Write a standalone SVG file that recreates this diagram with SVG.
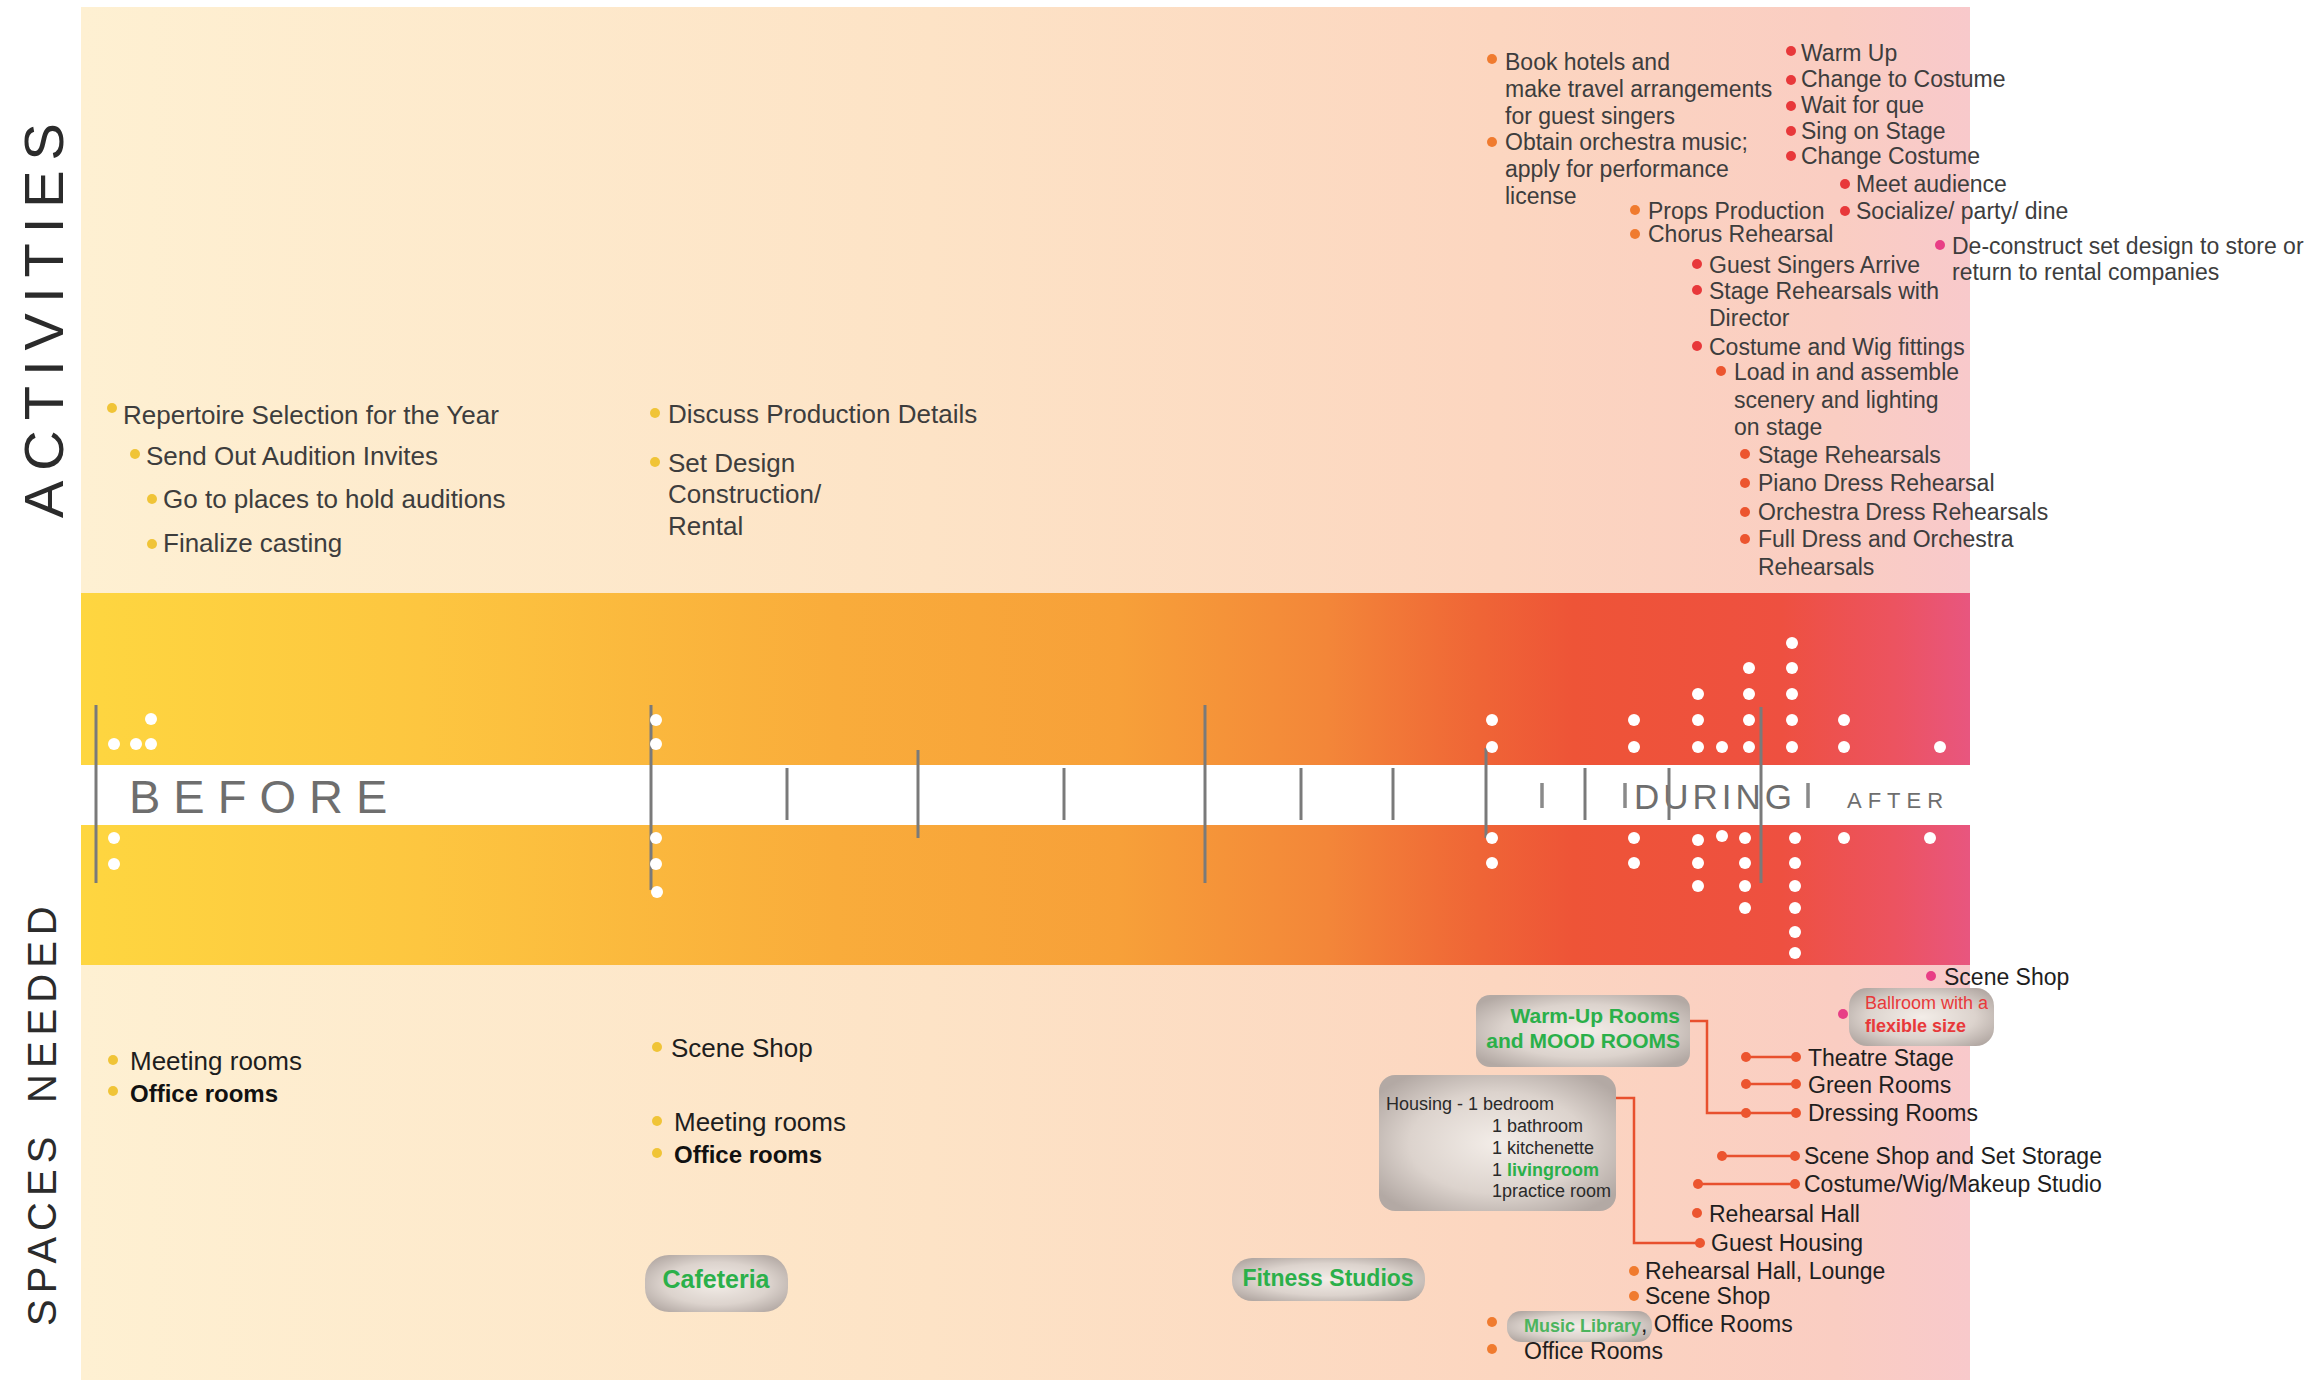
<svg xmlns="http://www.w3.org/2000/svg" width="2319" height="1380" viewBox="0 0 2319 1380">
<defs>
<linearGradient id="gTop" x1="81" y1="0" x2="1970" y2="0" gradientUnits="userSpaceOnUse">
<stop offset="0" stop-color="#FEF0D2"/>
<stop offset="0.45" stop-color="#FDE3C6"/>
<stop offset="0.75" stop-color="#FCD6C0"/>
<stop offset="0.93" stop-color="#FACDC2"/>
<stop offset="1" stop-color="#F8C9CB"/>
</linearGradient>
<linearGradient id="gBand" x1="81" y1="0" x2="1970" y2="0" gradientUnits="userSpaceOnUse">
<stop offset="0" stop-color="#FED640"/>
<stop offset="0.18" stop-color="#FDC640"/>
<stop offset="0.4" stop-color="#F9AC3B"/>
<stop offset="0.55" stop-color="#F7A039"/>
<stop offset="0.66" stop-color="#F38639"/>
<stop offset="0.74" stop-color="#EF6536"/>
<stop offset="0.79" stop-color="#EE5437"/>
<stop offset="0.9" stop-color="#EE5040"/>
<stop offset="0.96" stop-color="#EC5360"/>
<stop offset="1" stop-color="#E8567F"/>
</linearGradient>
<radialGradient id="gPill" cx="0.5" cy="0.5" r="0.62">
<stop offset="0" stop-color="#F3EDE8"/>
<stop offset="0.6" stop-color="#DCD3CD"/>
<stop offset="1" stop-color="#B3A9A4"/>
</radialGradient>
<style>
text{font-family:"Liberation Sans",Arial,sans-serif}
.side{font-size:56px;fill:#2b2b2b;letter-spacing:10px}
.side2{font-size:40px;fill:#2b2b2b;letter-spacing:6px}
.phase{fill:#6e6e6e}
.a1{font-size:26px;fill:#3d3d3d}
.a2{font-size:23px;fill:#3d3d3d}
.s1{font-size:26px;fill:#1e1e1e}
.s1b{font-size:24px;fill:#111;font-weight:bold}
.s2{font-size:23px;fill:#1e1e1e}
.sm{font-size:18px;fill:#2a2a2a}
.grn{fill:#2BB04A;font-weight:bold}
.red{fill:#E8393A}
.by{fill:#F0C437}
.bo{fill:#F07B2F}
.br{fill:#E8383A}
.bp{fill:#E83E86}
.bs{fill:#EC552F}
.pill{fill:url(#gPill)}
.tick{stroke:#7a7a7a;stroke-width:3;fill:none}
.tickd{stroke:#8a8a8a;stroke-width:3.5;fill:none}
.dot{fill:#ffffff}
.con{stroke:#E8502E;stroke-width:2.5;fill:none}
</style>
</defs>

<g id="background">
<rect x="81" y="7" width="1889" height="586" fill="url(#gTop)"/>
<rect x="81" y="593" width="1889" height="372" fill="url(#gBand)"/>
<rect x="81" y="765" width="1889" height="60" fill="#ffffff"/>
<rect x="81" y="965" width="1889" height="415" fill="url(#gTop)"/>
</g>

<g id="side-labels">
<text class="side" transform="translate(63,518) rotate(-90)">ACTIVITIES</text>
<text class="side2" transform="translate(56,1326) rotate(-90)">SPACES</text>
<text class="side2" transform="translate(56,1103) rotate(-90)">NEEDED</text>
</g>

<g id="timeline">
<text class="phase" x="129" y="813" font-size="47" letter-spacing="13">BEFORE</text>
<text class="phase" x="1634" y="809" font-size="35" letter-spacing="4" fill="#777">DURING</text>
<text class="phase" x="1847" y="808" font-size="22" letter-spacing="6" fill="#777">AFTER</text>
<line class="tick" x1="96" y1="705" x2="96" y2="883"/>
<line class="tick" x1="651" y1="705" x2="651" y2="890"/>
<line class="tick" x1="787" y1="768" x2="787" y2="820"/>
<line class="tick" x1="918" y1="750" x2="918" y2="838"/>
<line class="tick" x1="1064" y1="768" x2="1064" y2="820"/>
<line class="tick" x1="1205" y1="705" x2="1205" y2="883"/>
<line class="tick" x1="1301" y1="768" x2="1301" y2="820"/>
<line class="tick" x1="1393" y1="768" x2="1393" y2="820"/>
<line class="tick" x1="1486" y1="748" x2="1486" y2="838"/>
<line class="tickd" x1="1542" y1="783" x2="1542" y2="808"/>
<line class="tick" x1="1585" y1="768" x2="1585" y2="820"/>
<line class="tickd" x1="1625" y1="783" x2="1625" y2="808"/>
<line class="tick" x1="1669" y1="768" x2="1669" y2="820"/>
<line class="tick" x1="1761" y1="707" x2="1761" y2="883"/>
<line class="tickd" x1="1808" y1="783" x2="1808" y2="808"/>
</g>

<g id="dots">
<circle class="dot" cx="151" cy="719" r="6"/>
<circle class="dot" cx="114" cy="744" r="6"/>
<circle class="dot" cx="136" cy="744" r="6"/>
<circle class="dot" cx="151" cy="744" r="6"/>
<circle class="dot" cx="114" cy="838" r="6"/>
<circle class="dot" cx="114" cy="864" r="6"/>
<circle class="dot" cx="656" cy="720" r="6"/>
<circle class="dot" cx="656" cy="744" r="6"/>
<circle class="dot" cx="656" cy="838" r="6"/>
<circle class="dot" cx="656" cy="864" r="6"/>
<circle class="dot" cx="657" cy="892" r="6"/>
<circle class="dot" cx="1492" cy="720" r="6"/>
<circle class="dot" cx="1492" cy="747" r="6"/>
<circle class="dot" cx="1634" cy="720" r="6"/>
<circle class="dot" cx="1634" cy="747" r="6"/>
<circle class="dot" cx="1698" cy="694" r="6"/>
<circle class="dot" cx="1698" cy="720" r="6"/>
<circle class="dot" cx="1698" cy="747" r="6"/>
<circle class="dot" cx="1722" cy="747" r="6"/>
<circle class="dot" cx="1749" cy="668" r="6"/>
<circle class="dot" cx="1749" cy="694" r="6"/>
<circle class="dot" cx="1749" cy="720" r="6"/>
<circle class="dot" cx="1749" cy="747" r="6"/>
<circle class="dot" cx="1792" cy="643" r="6"/>
<circle class="dot" cx="1792" cy="668" r="6"/>
<circle class="dot" cx="1792" cy="694" r="6"/>
<circle class="dot" cx="1792" cy="720" r="6"/>
<circle class="dot" cx="1792" cy="747" r="6"/>
<circle class="dot" cx="1844" cy="720" r="6"/>
<circle class="dot" cx="1844" cy="747" r="6"/>
<circle class="dot" cx="1940" cy="747" r="6"/>
<circle class="dot" cx="1492" cy="838" r="6"/>
<circle class="dot" cx="1492" cy="863" r="6"/>
<circle class="dot" cx="1634" cy="838" r="6"/>
<circle class="dot" cx="1634" cy="863" r="6"/>
<circle class="dot" cx="1698" cy="840" r="6"/>
<circle class="dot" cx="1698" cy="863" r="6"/>
<circle class="dot" cx="1698" cy="886" r="6"/>
<circle class="dot" cx="1722" cy="836" r="6"/>
<circle class="dot" cx="1745" cy="838" r="6"/>
<circle class="dot" cx="1745" cy="863" r="6"/>
<circle class="dot" cx="1745" cy="886" r="6"/>
<circle class="dot" cx="1745" cy="908" r="6"/>
<circle class="dot" cx="1795" cy="838" r="6"/>
<circle class="dot" cx="1795" cy="863" r="6"/>
<circle class="dot" cx="1795" cy="886" r="6"/>
<circle class="dot" cx="1795" cy="908" r="6"/>
<circle class="dot" cx="1795" cy="932" r="6"/>
<circle class="dot" cx="1795" cy="953" r="6"/>
<circle class="dot" cx="1844" cy="838" r="6"/>
<circle class="dot" cx="1930" cy="838" r="6"/>
</g>

<g id="act-before">
<circle class="by" cx="112" cy="408" r="5"/>
<text class="a1" x="123" y="424">Repertoire Selection for the Year</text>
<circle class="by" cx="135" cy="454" r="5"/>
<text class="a1" x="146" y="465">Send Out Audition Invites</text>
<circle class="by" cx="152" cy="499" r="5"/>
<text class="a1" x="163" y="508">Go to places to hold auditions</text>
<circle class="by" cx="152" cy="544" r="5"/>
<text class="a1" x="163" y="552">Finalize casting</text>
</g>

<g id="act-design">
<circle class="by" cx="655" cy="413" r="5"/>
<text class="a1" x="668" y="423">Discuss Production Details</text>
<circle class="by" cx="655" cy="462" r="5"/>
<text class="a1" x="668" y="472">Set Design</text>
<text class="a1" x="668" y="503">Construction/</text>
<text class="a1" x="668" y="535">Rental</text>
</g>

<g id="act-prep">
<circle class="bo" cx="1492" cy="59" r="5"/>
<text class="a2" x="1505" y="70">Book hotels and</text>
<text class="a2" x="1505" y="97">make travel arrangements</text>
<text class="a2" x="1505" y="124">for guest singers</text>
<circle class="bo" cx="1492" cy="142" r="5"/>
<text class="a2" x="1505" y="150">Obtain orchestra music;</text>
<text class="a2" x="1505" y="177">apply for performance</text>
<text class="a2" x="1505" y="204">license</text>
<circle class="bo" cx="1635" cy="210" r="5"/>
<text class="a2" x="1648" y="219">Props Production</text>
<circle class="bo" cx="1635" cy="234" r="5"/>
<text class="a2" x="1648" y="242">Chorus Rehearsal</text>
</g>

<g id="act-during">
<circle class="br" cx="1791" cy="51" r="5"/>
<text class="a2" x="1801" y="61">Warm Up</text>
<circle class="br" cx="1791" cy="80" r="5"/>
<text class="a2" x="1801" y="87">Change to Costume</text>
<circle class="br" cx="1791" cy="106" r="5"/>
<text class="a2" x="1801" y="113">Wait for que</text>
<circle class="br" cx="1791" cy="131" r="5"/>
<text class="a2" x="1801" y="139">Sing on Stage</text>
<circle class="br" cx="1791" cy="156" r="5"/>
<text class="a2" x="1801" y="164">Change Costume</text>
<circle class="br" cx="1845" cy="184" r="5"/>
<text class="a2" x="1856" y="192">Meet audience</text>
<circle class="br" cx="1845" cy="211" r="5"/>
<text class="a2" x="1856" y="219">Socialize/ party/ dine</text>
<circle class="br" cx="1697" cy="264" r="5"/>
<text class="a2" x="1709" y="273">Guest Singers Arrive</text>
<circle class="br" cx="1697" cy="290" r="5"/>
<text class="a2" x="1709" y="299">Stage Rehearsals with</text>
<text class="a2" x="1709" y="326">Director</text>
<circle class="br" cx="1697" cy="346" r="5"/>
<text class="a2" x="1709" y="355">Costume and Wig fittings</text>
<circle class="bs" cx="1721" cy="371" r="5"/>
<text class="a2" x="1734" y="380">Load in and assemble</text>
<text class="a2" x="1734" y="408">scenery and lighting</text>
<text class="a2" x="1734" y="435">on stage</text>
<circle class="bs" cx="1745" cy="454" r="5"/>
<text class="a2" x="1758" y="463">Stage Rehearsals</text>
<circle class="bs" cx="1745" cy="483" r="5"/>
<text class="a2" x="1758" y="491">Piano Dress Rehearsal</text>
<circle class="bs" cx="1745" cy="512" r="5"/>
<text class="a2" x="1758" y="520">Orchestra Dress Rehearsals</text>
<circle class="bs" cx="1745" cy="539" r="5"/>
<text class="a2" x="1758" y="547">Full Dress and Orchestra</text>
<text class="a2" x="1758" y="575">Rehearsals</text>
</g>

<g id="act-after">
<circle class="bp" cx="1940" cy="245" r="5"/>
<text class="a2" x="1952" y="254">De-construct set design to store or</text>
<text class="a2" x="1952" y="280">return to rental companies</text>
</g>

<g id="spaces-before">
<circle class="by" cx="113" cy="1060" r="5"/>
<text class="s1" x="130" y="1070">Meeting rooms</text>
<circle class="by" cx="113" cy="1091" r="5"/>
<text class="s1b" x="130" y="1102">Office rooms</text>
</g>

<g id="spaces-design">
<circle class="by" cx="657" cy="1047" r="5"/>
<text class="s1" x="671" y="1057">Scene Shop</text>
<circle class="by" cx="657" cy="1121" r="5"/>
<text class="s1" x="674" y="1131">Meeting rooms</text>
<circle class="by" cx="657" cy="1153" r="5"/>
<text class="s1b" x="674" y="1163">Office rooms</text>
</g>

<g id="cafeteria">
<rect class="pill" x="645" y="1255" width="143" height="57" rx="24"/>
<text class="grn" x="716" y="1288" font-size="25" text-anchor="middle">Cafeteria</text>
</g>

<g id="fitness">
<rect class="pill" x="1232" y="1258" width="193" height="43" rx="20"/>
<text class="grn" x="1328" y="1286" font-size="23" text-anchor="middle">Fitness Studios</text>
</g>

<g id="connectors">
<polyline class="con" points="1690,1021 1707,1021 1707,1113 1796,1113"/>
<polyline class="con" points="1616,1098 1634,1098 1634,1243 1700,1243"/>
<line class="con" x1="1746" y1="1057" x2="1796" y2="1057"/>
<line class="con" x1="1746" y1="1084" x2="1796" y2="1084"/>
<line class="con" x1="1722" y1="1156" x2="1795" y2="1156"/>
<line class="con" x1="1698" y1="1184" x2="1795" y2="1184"/>
</g>

<g id="warmup">
<rect class="pill" x="1476" y="995" width="214" height="72" rx="14"/>
<text class="grn" x="1680" y="1023" font-size="21" text-anchor="end">Warm-Up Rooms</text>
<text class="grn" x="1680" y="1048" font-size="21" text-anchor="end">and MOOD ROOMS</text>
</g>

<g id="housing">
<rect class="pill" x="1379" y="1075" width="237" height="136" rx="16"/>
<text class="sm" x="1386" y="1110">Housing - 1 bedroom</text>
<text class="sm" x="1492" y="1132">1 bathroom</text>
<text class="sm" x="1492" y="1154">1 kitchenette</text>
<text class="sm" x="1492" y="1176">1 <tspan class="grn">livingroom</tspan></text>
<text class="sm" x="1492" y="1197">1practice room</text>
</g>

<g id="ballroom">
<rect class="pill" x="1849" y="988" width="145" height="58" rx="18"/>
<circle class="bp" cx="1843" cy="1014" r="5"/>
<text class="red" x="1865" y="1009" font-size="18">Ballroom with a</text>
<text class="red" x="1865" y="1032" font-size="18" font-weight="bold">flexible size</text>
</g>

<g id="spaces-during">
<circle class="bp" cx="1931" cy="976" r="5"/>
<text class="s2" x="1944" y="985">Scene Shop</text>
<circle class="bs" cx="1746" cy="1057" r="5"/>
<circle class="bs" cx="1796" cy="1057" r="5"/>
<text class="s2" x="1808" y="1066">Theatre Stage</text>
<circle class="bs" cx="1746" cy="1084" r="5"/>
<circle class="bs" cx="1796" cy="1084" r="5"/>
<text class="s2" x="1808" y="1093">Green Rooms</text>
<circle class="bs" cx="1746" cy="1113" r="5"/>
<circle class="bs" cx="1796" cy="1113" r="5"/>
<text class="s2" x="1808" y="1121">Dressing Rooms</text>
<circle class="bs" cx="1722" cy="1156" r="5"/>
<circle class="bs" cx="1795" cy="1156" r="5"/>
<text class="s2" x="1804" y="1164">Scene Shop and Set Storage</text>
<circle class="bs" cx="1698" cy="1184" r="5"/>
<circle class="bs" cx="1795" cy="1184" r="5"/>
<text class="s2" x="1804" y="1192">Costume/Wig/Makeup Studio</text>
<circle class="bs" cx="1697" cy="1213" r="5"/>
<text class="s2" x="1709" y="1222">Rehearsal Hall</text>
<circle class="bs" cx="1700" cy="1243" r="5"/>
<text class="s2" x="1711" y="1251">Guest Housing</text>
</g>

<g id="spaces-prep">
<circle class="bo" cx="1634" cy="1271" r="5"/>
<text class="s2" x="1645" y="1279">Rehearsal Hall, Lounge</text>
<circle class="bo" cx="1634" cy="1296" r="5"/>
<text class="s2" x="1645" y="1304">Scene Shop</text>
<rect class="pill" x="1507" y="1311" width="145" height="31" rx="14"/>
<circle class="bo" cx="1492" cy="1322" r="5"/>
<text class="s2" x="1524" y="1332"><tspan font-size="18" font-weight="bold" fill="#4CB45E">Music Library</tspan>, Office Rooms</text>
<circle class="bo" cx="1492" cy="1349" r="5"/>
<text class="s2" x="1524" y="1359">Office Rooms</text>
</g>
</svg>
